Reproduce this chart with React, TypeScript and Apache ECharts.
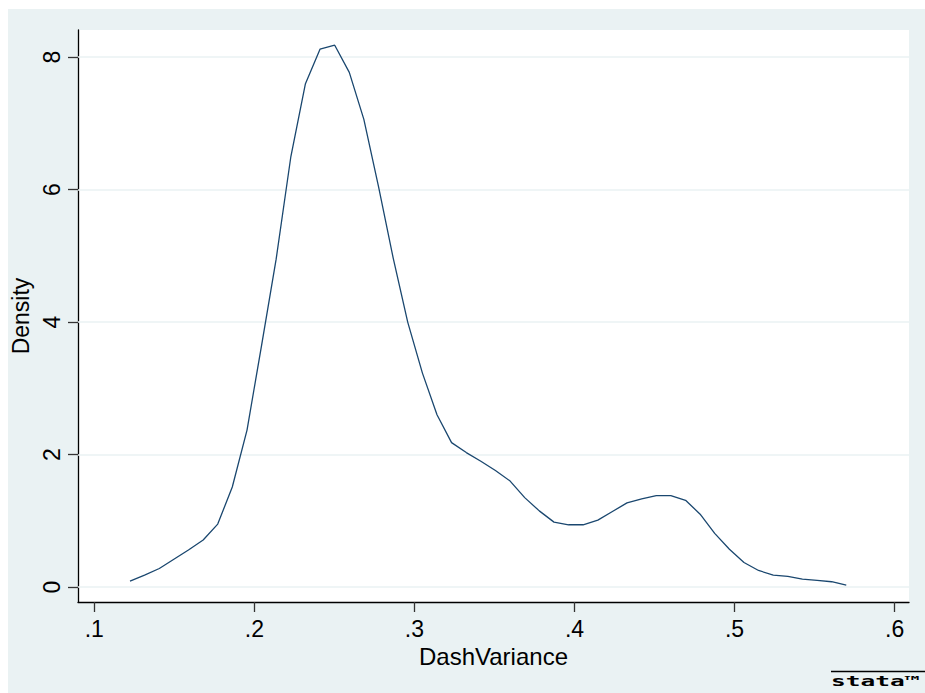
import React, { useEffect, useRef } from "react";
import * as echarts from "echarts";

const xValues = [
  0.1223, 0.1314, 0.1406, 0.1497, 0.1588, 0.168, 0.1771, 0.1862, 0.1954, 0.2045,
  0.2136, 0.2228, 0.2319, 0.241, 0.2502, 0.2593, 0.2684, 0.2776, 0.2867, 0.2958,
  0.305, 0.3141, 0.3232, 0.3324, 0.3415, 0.3506, 0.3598, 0.3689, 0.378, 0.3872,
  0.3963, 0.4054, 0.4146, 0.4237, 0.4328, 0.442, 0.4511, 0.4602, 0.4694, 0.4785,
  0.4876, 0.4968, 0.5059, 0.515, 0.5242, 0.5333, 0.5424, 0.5516, 0.5607, 0.5698,
];
const densityValues = [
  0.09, 0.18, 0.28, 0.42, 0.56, 0.71, 0.95, 1.51, 2.37, 3.65,
  4.95, 6.5, 7.6, 8.12, 8.18, 7.77, 7.06, 6.04, 4.97, 4.0,
  3.23, 2.6, 2.18, 2.03, 1.9, 1.76, 1.6, 1.35, 1.15, 0.98,
  0.94, 0.94, 1.01, 1.14, 1.27, 1.33, 1.38, 1.38, 1.31, 1.1,
  0.81, 0.57, 0.37, 0.25, 0.18, 0.16, 0.12, 0.1, 0.08, 0.03,
];
const xTicks = [0.1, 0.2, 0.3, 0.4, 0.5, 0.6];
const yTicks = [0, 2, 4, 6, 8];
const xTitle = "DashVariance";
const yTitle = "Density";

const FONT = "Liberation Sans, Arial, sans-serif";
const BG = "#EAF2F3";
const LINE = "#1A476F";

export default function App() {
  const ref = useRef<HTMLDivElement>(null);
  useEffect(() => {
    if (!ref.current) return;
    const chart = echarts.init(ref.current, null, { renderer: "svg" });
    const fmt = (v: number) => {
      const s = String(Math.round(v * 10) / 10);
      return s.startsWith("0.") ? s.slice(1) : s;
    };
    chart.setOption({
      animation: false,
      backgroundColor: BG,
      grid: {
        left: 70, top: 21, right: 16, bottom: 91,
        outerBoundsMode: "none", containLabel: false,
        show: true, backgroundColor: "#FFFFFF", borderWidth: 0,
      },
      xAxis: {
        type: "value",
        min: 0.0898,
        max: 0.609,
        name: xTitle,
        nameLocation: "middle",
        nameGap: 40,
        nameTextStyle: { fontFamily: FONT, fontSize: 24, color: "#000" },
        axisLine: { show: true, onZero: false, lineStyle: { color: "#000", width: 1.3 } },
        axisTick: { show: true, length: 10, customValues: xTicks, lineStyle: { color: "#333", width: 1.3 } },
        axisLabel: { customValues: xTicks, formatter: fmt, fontFamily: FONT, fontSize: 23, color: "#000", margin: 15 },
        splitLine: { show: false },
      },
      yAxis: {
        type: "value",
        min: -0.226,
        max: 8.41,
        name: yTitle,
        nameLocation: "middle",
        nameGap: 38,
        nameRotate: 90,
        nameTextStyle: { fontFamily: FONT, fontSize: 23, color: "#000" },
        axisLine: { show: true, onZero: false, lineStyle: { color: "#000", width: 1.3 } },
        axisTick: { show: true, length: 10, customValues: yTicks, lineStyle: { color: "#333", width: 1.3 } },
        axisLabel: { customValues: yTicks, rotate: 90, fontFamily: FONT, fontSize: 23, color: "#000", margin: 15 },
        splitLine: { show: false },
      },
      series: [
        {
          type: "line",
          data: xValues.map((x, i) => [x, densityValues[i]]),
          symbol: "none",
          lineStyle: { color: LINE, width: 1.3 },
          z: 3,
          markLine: {
            silent: true,
            symbol: ["none", "none"],
            label: { show: false },
            lineStyle: { color: BG, width: 1.5, type: "solid" },
            data: yTicks.map((v) => ({ yAxis: v })),
            z: 1,
          },
        },
      ],
      graphic: [
        {
          type: "line",
          shape: { x1: 823, y1: 662.5, x2: 917, y2: 662.5 },
          style: { stroke: "#000", lineWidth: 1.3 },
        },
        {
          type: "text",
          x: 823,
          y: 665,
          scaleX: 1.75,
          style: {
            text: "stata™",
            font: "bold 14px 'DejaVu Sans Mono', monospace",
            fill: "#000",
          },
        },
      ],
    });
    return () => chart.dispose();
  }, []);
  return (
    <div
      ref={ref}
      style={{ position: "absolute", left: 8, top: 9, width: 917, height: 684 }}
    />
  );
}
